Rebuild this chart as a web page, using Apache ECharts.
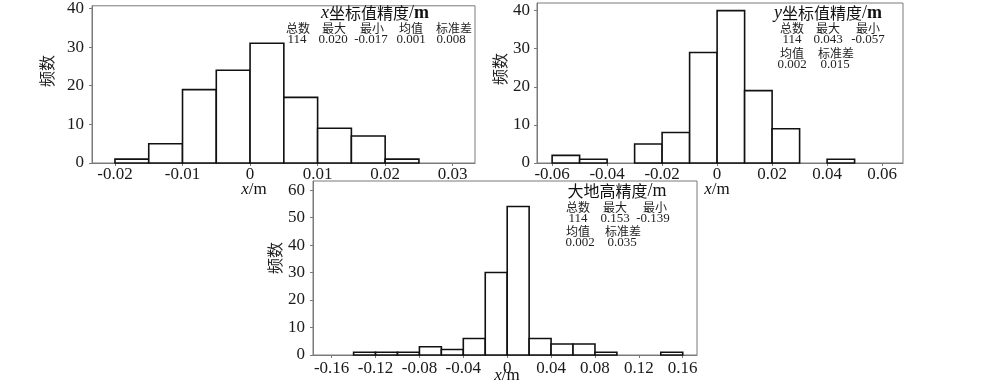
<!DOCTYPE html>
<html>
<head>
<meta charset="utf-8">
<script src="https://cdn.jsdelivr.net/npm/echarts@6/dist/echarts.min.js"></script>
<style>html,body{margin:0;padding:0;background:#fff}#c{width:1000px;height:388px}</style>
</head>
<body>
<div id="c"></div>
<script>
// ---- data ----
const xEdges = [-0.02, -0.015, -0.01, -0.005, 0, 0.005, 0.01, 0.015, 0.02, 0.025];
const xCounts = [1, 5, 19, 24, 31, 17, 9, 7, 1];
const xTicks = [-0.02, -0.01, 0, 0.01, 0.02, 0.03];

const yEdges = [-0.06, -0.05, -0.04, -0.03, -0.02, -0.01, 0, 0.01, 0.02, 0.03, 0.04, 0.05];
const yCounts = [2, 1, 0, 5, 8, 29, 40, 19, 9, 0, 1];
const yTicks = [-0.06, -0.04, -0.02, 0, 0.02, 0.04, 0.06];

const hEdges = [-0.14, -0.12, -0.10, -0.08, -0.06, -0.04, -0.02, 0, 0.02, 0.04, 0.06, 0.08, 0.10, 0.12, 0.14, 0.16];
const hCounts = [1, 1, 1, 3, 2, 6, 30, 54, 6, 4, 4, 1, 0, 0, 1];
const hTicks = [-0.16, -0.12, -0.08, -0.04, 0, 0.04, 0.08, 0.12, 0.16];

const freqTicks1 = [0, 10, 20, 30, 40];
const freqTicks2 = [0, 10, 20, 30, 40];
const freqTicks3 = [0, 10, 20, 30, 40, 50, 60];

const statHead5 = ['总数', '最大', '最小', '均值', '标准差'];
const xStats = ['114', '0.020', '-0.017', '0.001', '0.008'];
const statHead3 = ['总数', '最大', '最小'];
const statHead2 = ['均值', '标准差'];
const yStatsA = ['114', '0.043', '-0.057'];
const yStatsB = ['0.002', '0.015'];
const hStatsA = ['114', '0.153', '-0.139'];
const hStatsB = ['0.002', '0.035'];

// ---- build ----
const SERIF = '"Liberation Serif", "Times New Roman", "Noto Sans CJK SC", serif';
const CJK = '"Noto Sans CJK SC", sans-serif';
const AX = '#7a7a7a';

function bins(edges, counts) {
  const out = [];
  for (let i = 0; i < counts.length; i++) {
    if (counts[i] > 0) out.push([edges[i], edges[i + 1], counts[i]]);
  }
  return out;
}
function fmt(v) { return String(+(+v).toFixed(4)); }

function xAx(gi, min, max, ticks, margin) {
  return {
    type: 'value', gridIndex: gi, min: min, max: max,
    axisLine: { show: true, onZero: false, lineStyle: { color: AX, width: 1 } },
    axisTick: { show: true, length: 3, customValues: ticks, lineStyle: { color: AX } },
    axisLabel: { customValues: ticks, formatter: fmt, margin: margin, fontSize: 17, fontFamily: SERIF, color: '#1a1a1a', hideOverlap: false },
    splitLine: { show: false }
  };
}
function yAx(gi, max, ticks, margin) {
  return {
    type: 'value', gridIndex: gi, min: 0, max: max,
    axisLine: { show: true, onZero: false, lineStyle: { color: AX, width: 1 } },
    axisTick: { show: true, length: 3, customValues: ticks, lineStyle: { color: AX } },
    axisLabel: { customValues: ticks, formatter: fmt, margin: margin, fontSize: 17, fontFamily: SERIF, color: '#1a1a1a' },
    splitLine: { show: false }
  };
}
function renderBar(params, api) {
  const a = api.coord([api.value(0), api.value(2)]);
  const b = api.coord([api.value(1), 0]);
  return {
    type: 'rect',
    shape: { x: a[0], y: a[1], width: b[0] - a[0], height: b[1] - a[1] },
    style: { fill: '#fff', stroke: '#111', lineWidth: 1.6 }
  };
}
function series(gi, data) {
  return { type: 'custom', xAxisIndex: gi, yAxisIndex: gi, data: data, renderItem: renderBar, clip: false,
    encode: { x: [0, 1], y: 2 } };
}

function txt(x, y, s, size, fam, extra) {
  return Object.assign({ type: 'text', x: x, y: y, z: 100,
    style: { text: s, fontSize: size, fontFamily: fam, fill: '#222', align: 'center', verticalAlign: 'middle' } }, extra || {});
}
function row(xs, y, items, size, fam) {
  return items.map((s, i) => txt(xs[i], y, s, size, fam));
}
function title(x, y, pre, mid, boldM) {
  return {
    type: 'text', x: x, y: y, z: 100,
    style: {
      text: (pre ? '{i|' + pre + '}' : '') + '{c|' + mid + '}{s|/}{m|m}',
      align: 'center', verticalAlign: 'middle', fill: '#111',
      rich: {
        i: { fontSize: 18, fontFamily: SERIF, fontStyle: 'italic', fill: '#111' },
        c: { fontSize: 16, fontFamily: CJK, fill: '#111' },
        s: { fontSize: 18, fontFamily: SERIF, fill: '#111' },
        m: { fontSize: 18, fontFamily: SERIF, fontWeight: boldM ? 'bold' : 'normal', fill: '#111' }
      }
    }
  };
}
function xName(x, y) {
  return {
    type: 'text', x: x, y: y, z: 100,
    style: {
      text: '{i|x}{n|/m}', align: 'center', verticalAlign: 'middle',
      rich: {
        i: { fontSize: 17, fontFamily: SERIF, fontStyle: 'italic', fill: '#111' },
        n: { fontSize: 17, fontFamily: SERIF, fill: '#111' }
      }
    }
  };
}
function yName(x, y) {
  return { type: 'text', x: x, y: y, rotation: Math.PI / 2, z: 100,
    style: { text: '频数', fontSize: 16, fontFamily: CJK, fill: '#222', align: 'center', verticalAlign: 'middle' } };
}

const graphics = [].concat(
  [title(375, 13, 'x', '坐标值精度', true)],
  row([298, 334, 372, 411, 454], 28, statHead5, 12, CJK),
  row([297, 333, 371, 411, 451], 40, xStats, 13, SERIF),
  [title(828, 13, 'y', '坐标值精度', true)],
  row([792, 828, 868], 28, statHead3, 12, CJK),
  row([792, 828, 868], 40, yStatsA, 13, SERIF),
  row([792, 836], 53, statHead2, 12, CJK),
  row([792, 835], 65, yStatsB, 13, SERIF),
  [title(617, 191, '', '大地高精度', false)],
  row([578, 615, 655], 207, statHead3, 12, CJK),
  row([578, 615, 653], 219, hStatsA, 13, SERIF),
  row([578, 623], 231, statHead2, 12, CJK),
  row([580, 622], 243, hStatsB, 13, SERIF),
  [xName(254, 190), xName(717, 190), xName(507, 376)],
  [yName(47, 71), yName(500, 69), yName(275, 258)]
);

const option = {
  animation: false,
  backgroundColor: '#fff',
  grid: [
    { left: 92, top: 4, width: 383, height: 159, show: true, borderColor: AX, borderWidth: 1, backgroundColor: 'transparent' },
    { left: 537, top: 3, width: 366, height: 160, show: true, borderColor: AX, borderWidth: 1, backgroundColor: 'transparent' },
    { left: 313, top: 181, width: 384, height: 174, show: true, borderColor: AX, borderWidth: 1, backgroundColor: 'transparent' }
  ],
  xAxis: [
    xAx(0, -0.0234, 0.0333, xTicks, 3),
    xAx(1, -0.0655, 0.0676, yTicks, 3),
    xAx(2, -0.177, 0.173, hTicks, 5)
  ],
  yAxis: [
    yAx(0, 40.7, freqTicks1, 8),
    yAx(1, 42.0, freqTicks2, 7),
    yAx(2, 63.3, freqTicks3, 8)
  ],
  series: [
    series(0, bins(xEdges, xCounts)),
    series(1, bins(yEdges, yCounts)),
    series(2, bins(hEdges, hCounts))
  ],
  graphic: graphics
};

const chart = echarts.init(document.getElementById('c'), null, { renderer: 'canvas' });
chart.setOption(option);
</script>
</body>
</html>
